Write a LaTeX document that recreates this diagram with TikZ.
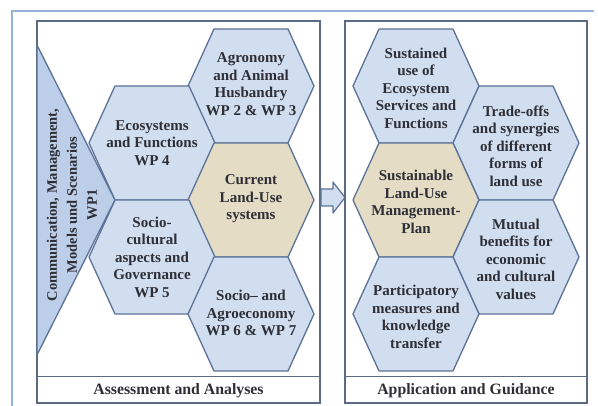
\documentclass[tikz,border=0pt]{standalone}
\usepackage{fontspec}
\setmainfont{Liberation Serif}
\usepackage{tikz}
\usetikzlibrary{positioning,calc}
\definecolor{HexBlue}{RGB}{208,222,240}
\definecolor{HexTan}{RGB}{228,220,196}
\definecolor{HexLine}{RGB}{92,114,150}
\definecolor{PanelLine}{RGB}{92,106,132}
\definecolor{FrameBlue}{RGB}{150,180,215}
\definecolor{TriBlue}{RGB}{188,206,232}
\definecolor{TextGray}{RGB}{46,46,54}
\tikzset{
    hexline/.style={draw=HexLine, line width=1.3pt, line join=round},
    pics/hexcell/.style={code={
        \draw[hexline, #1] (-63,0) -- (-37,-57) -- (37,-57) -- (63,0) -- (37,57) -- (-37,57) -- cycle;
    }},
    hextext/.style={align=center, text=TextGray, inner sep=0pt,
        font=\fontsize{15}{17.5}\selectfont\bfseries},
    paneltext/.style={text=TextGray, inner sep=0pt,
        font=\fontsize{15.8}{17.5}\selectfont\bfseries}
}

\begin{document}
\begin{tikzpicture}[
                x=1pt, y=-1pt,
                % Style cho khung (hai panel lon)
                panelbox/.style={
                    draw=PanelLine,
                    line width=1.6pt,
                    fill=white
                },
                % Style cho mui ten giua hai panel
                blockarrow/.style={
                    draw=HexLine,
                    line width=1.2pt,
                    fill=HexBlue,
                    line join=round
                }
            ]

                \useasboundingbox (0,0) rectangle (598,406);
                \fill[white] (0,0) rectangle (598,406);

                % --- KHUNG NGOAI ---
                \draw[FrameBlue, line width=1.2pt] (12,406) -- (12,11) -- (594,11);

                % --- PANEL TRAI ---
                \draw[panelbox] (37,21) rectangle (320,403);
                \draw[PanelLine, line width=1pt] (37,377) -- (320,377);
                \node[paneltext] (assess) at (178.5,391) {Assessment and Analyses};

                % Tam giac WP1
                \draw[hexline, fill=TriBlue] (37,45) -- (115,200) -- (37,355) -- cycle;
                \node[hextext, rotate=90, font=\fontsize{14.5}{20}\selectfont\bfseries] (wp1) at (72,205)
                    {Communication, Management,\\Models und Scenarios\\WP1};

                % Cac o luc giac ben trai
                \pic at (251,86)  {hexcell={fill=HexBlue}};
                \pic at (152,143) {hexcell={fill=HexBlue}};
                \pic at (251,200) {hexcell={fill=HexTan}};
                \pic at (152,257) {hexcell={fill=HexBlue}};
                \pic at (251,314) {hexcell={fill=HexBlue}};

                \node[hextext] (agro)  at (251,84)  {Agronomy\\and Animal\\Husbandry\\WP 2 \& WP 3};
                \node[hextext] (eco)   at (152,143) {Ecosystems\\and Functions\\WP 4};
                \node[hextext] (curr)  at (251,199) {Current\\Land-Use\\systems};
                \node[hextext] (socio) at (152,257) {Socio-\\cultural\\aspects and\\Governance\\WP 5};
                \node[hextext] (agec)  at (251,313) {Socio-- and\\Agroeconomy\\WP 6 \& WP 7};

                % --- MUI TEN ---
                \coordinate (tail) at (321,197.5);
                \coordinate (tip)  at (345,197.5);
                \draw[blockarrow] ($(tail)+(0,-8.5)$) -- ++(12,0) -- ++(0,-7) -- (tip)
                    -- ($(tail)+(12,15.5)$) -- ++(0,-7) -- ($(tail)+(0,8.5)$) -- cycle;

                % --- PANEL PHAI ---
                \draw[panelbox] (345,21) rectangle (587,403);
                \draw[PanelLine, line width=1pt] (345,377) -- (587,377);
                \node[paneltext] (apply) at (466,391) {Application and Guidance};

                \pic at (416,86)  {hexcell={fill=HexBlue}};
                \pic at (516,143) {hexcell={fill=HexBlue}};
                \pic at (416,200) {hexcell={fill=HexTan}};
                \pic at (516,257) {hexcell={fill=HexBlue}};
                \pic at (416,314) {hexcell={fill=HexBlue}};

                \node[hextext] (sust)  at (416,88)  {Sustained\\use of\\Ecosystem\\Services and\\Functions};
                \node[hextext] (trade) at (516,146) {Trade-offs\\and synergies\\of different\\forms of\\land use};
                \node[hextext] (plan)  at (416,202) {Sustainable\\Land-Use\\Management-\\Plan};
                \node[hextext] (mutual) at (516,259) {Mutual\\benefits for\\economic\\and cultural\\values};
                \node[hextext] (part)  at (416,317) {Participatory\\measures and\\knowledge\\transfer};

            \end{tikzpicture}
\end{document}
